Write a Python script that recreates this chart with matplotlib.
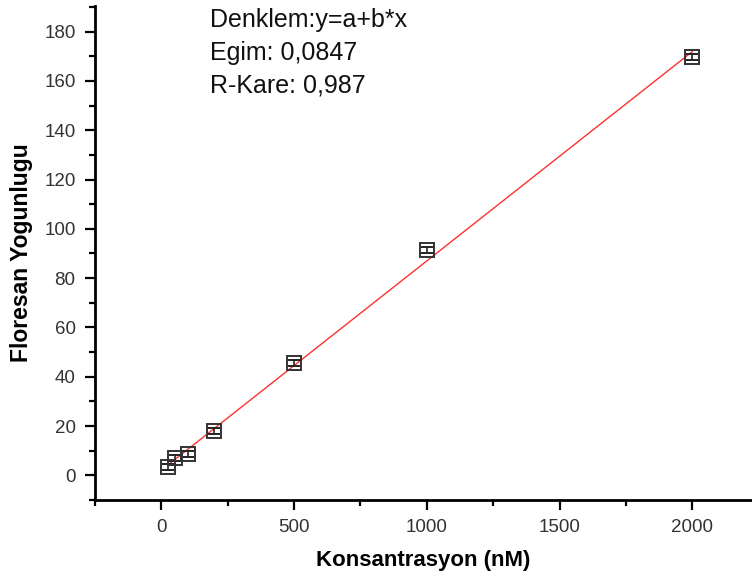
import numpy as np
import matplotlib
matplotlib.use("Agg")
import matplotlib.pyplot as plt
from matplotlib.ticker import MultipleLocator

conc = [25, 50, 100, 200, 500, 1000, 2000]
intensity = [3.2, 7.2, 8.6, 18.0, 45.6, 91.4, 169.6]
err = [1.2, 1.2, 1.2, 1.2, 1.2, 1.2, 1.2]
eq_lines = ["Denklem:y=a+b*x", "Egim: 0,0847", "R-Kare: 0,987"]

plt.rcParams['font.family'] = ['Liberation Sans', 'DejaVu Sans']

fig = plt.figure(figsize=(7.52, 5.84), dpi=100)
ax = fig.add_axes([95/752, 1-500/584, 1-95/752, (500-5.7)/584])

slope, intercept = np.polyfit(conc, intensity, 1)
xf = np.array([min(conc), max(conc)])
ax.plot(xf, intercept + slope*xf, color='#ff3030', lw=1.0, zorder=2)

ax.errorbar(conc, intensity, yerr=err, fmt='s', ms=10, mfc='none', mec='#333333',
            mew=1.4, ecolor='#222222', elinewidth=1.2, capsize=4, capthick=1.2, zorder=3)

ax.set_xlim(-250, 2225)
ax.set_ylim(-10, 190.5)
ax.xaxis.set_minor_locator(MultipleLocator(250))
ax.yaxis.set_major_locator(MultipleLocator(20))
ax.yaxis.set_minor_locator(MultipleLocator(10))
ax.set_xticks([0, 500, 1000, 1500, 2000])
for s in ['top', 'right']:
    ax.spines[s].set_visible(False)
for s in ['left', 'bottom']:
    ax.spines[s].set_linewidth(2)
ax.tick_params(which='major', direction='out', length=7, width=1.6, labelsize=13.5, pad=7, colors='black')
ax.tick_params(which='minor', direction='out', length=4, width=1.6)
for lab in ax.get_xticklabels() + ax.get_yticklabels():
    lab.set_color('#333333')

ax.set_xlabel("Konsantrasyon (nM)", fontsize=16, fontweight='bold', labelpad=10)
ax.set_ylabel("Floresan Yogunlugu", fontsize=16.5, fontweight='bold', labelpad=8)

for i, t in enumerate(eq_lines):
    fig.text(210/752, 1-(20+33*i)/584, t, fontsize=18, va='center', ha='left', color='#111111')

fig.savefig("out.png", dpi=100)
